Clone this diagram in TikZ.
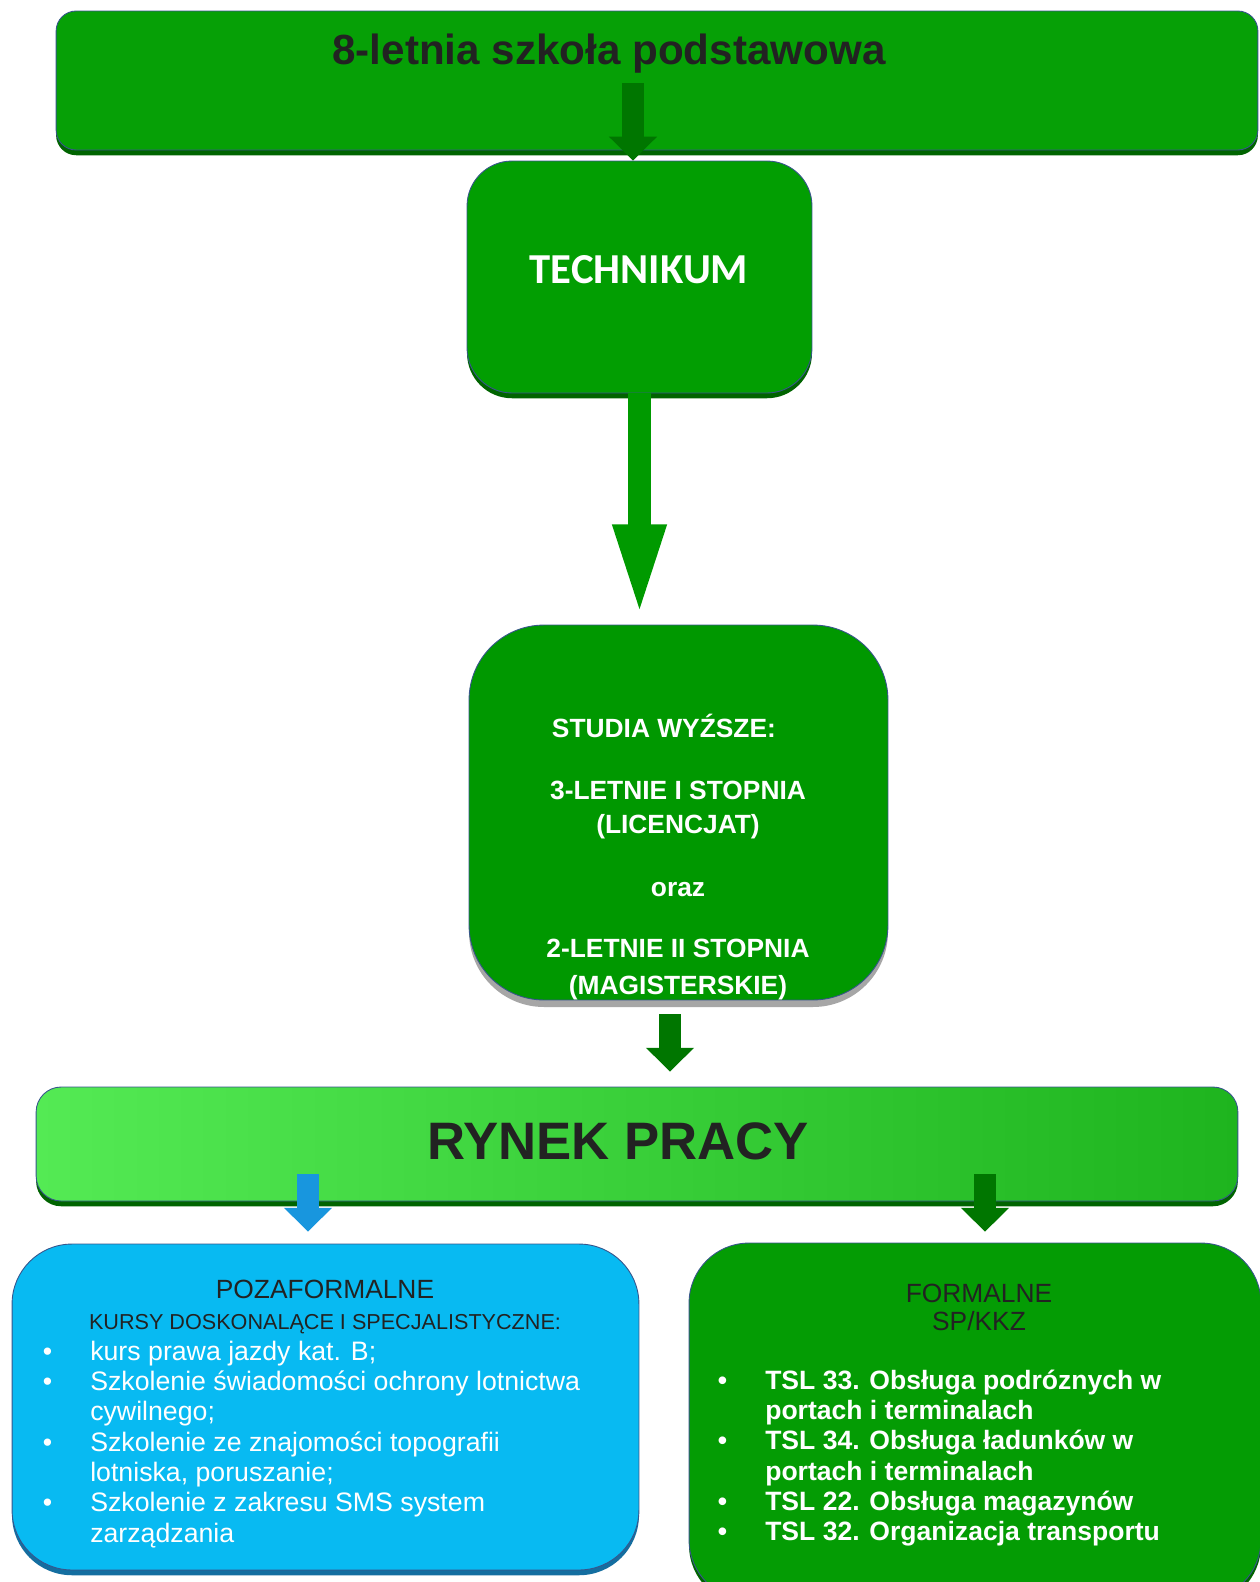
\documentclass[tikz,border=0pt]{standalone}
\usepackage{fontspec}
\setmainfont{Liberation Sans}
\newfontfamily\carlito{Carlito}
\usepackage{tikz}
\usetikzlibrary{arrows.meta,shadows}
\definecolor{topgreen}{RGB}{6,160,6}
\definecolor{techgreen}{RGB}{2,158,2}
\definecolor{studgreen}{RGB}{0,152,0}
\definecolor{formgreen}{RGB}{4,156,4}
\definecolor{edgegreen}{RGB}{0,100,0}
\definecolor{edgeblue}{RGB}{55,85,140}
\definecolor{rynekL}{RGB}{84,234,84}
\definecolor{rynekR}{RGB}{30,180,30}
\definecolor{pozablue}{RGB}{8,186,242}
\definecolor{pozaedge}{RGB}{20,110,160}
\definecolor{arrgreen}{RGB}{0,118,0}
\definecolor{bigarrgreen}{RGB}{0,154,0}
\definecolor{arrblue}{RGB}{24,150,222}
\definecolor{darktext}{RGB}{34,34,34}
\tikzset{box/.style={draw=edgeblue, line width=0.5pt, inner sep=0pt},
  greenbox/.style={box, fill=techgreen, drop shadow={shadow xshift=0pt, shadow yshift=-3pt, fill=edgegreen, opacity=1}},
  arr/.style={line width=12.5pt, -{Triangle[length=13.6pt, width=26.6pt]}, color=arrgreen},
  bigarr/.style={line width=13pt, -{Triangle[length=55pt, width=26.5pt]}, color=bigarrgreen},
  whitetxt/.style={text=white, inner sep=0pt, anchor=base},
  darktxt/.style={text=darktext, inner sep=0pt, anchor=base}}
\newcommand{\bul}[1]{\hangindent=27pt\hangafter=1\noindent\makebox[27pt][l]{\textbullet}#1\par}

\begin{document}
\begin{tikzpicture}[x=0.02cm, y=-0.02cm]
    \useasboundingbox (0,0) rectangle (1260,1582);
    \clip (0,0) rectangle (1260,1582);
    \fill[white] (0,0) rectangle (1260,1582);
    % boxes
    \node[greenbox, fill=topgreen, rounded corners=0.4cm, minimum width=24.04cm, minimum height=2.78cm] (szkola) at (657,80.5) {};
    \node[darktxt, font=\fontsize{24}{28}\selectfont\bfseries] (szkolatxt) at (609,64) {8-letnia szkoła podstawowa};
    \node[greenbox, rounded corners=0.9cm, minimum width=6.9cm, minimum height=4.64cm] (tech) at (639.5,277) {};
    \node[whitetxt, font=\carlito\fontsize{24.3}{28}\selectfont\bfseries] (techtxt) at (639,283) {TECHNIKUM};
    \node[box, fill=studgreen, rounded corners=1.5cm, minimum width=8.38cm, minimum height=7.5cm,
      drop shadow={shadow xshift=0pt, shadow yshift=-4pt, fill=black!35, opacity=1}] (studia) at (678.5,812.5) {};
    \node[whitetxt, font=\fontsize{15}{19.5}\selectfont\bfseries] (studiatxt) at (678,737) {\begin{tabular}[t]{@{}c@{}}
      STUDIA WYŹSZE:\hspace*{16pt}\\[16.2pt]
      3-LETNIE I STOPNIA\\
      (LICENCJAT)\\[16.2pt]
      oraz\\[15pt]
      2-LETNIE II STOPNIA\\[1.5pt]
      (MAGISTERSKIE)
    \end{tabular}};
    \node[box, left color=rynekL, right color=rynekR, rounded corners=0.5cm, minimum width=24.04cm, minimum height=2.28cm,
      drop shadow={shadow xshift=0pt, shadow yshift=-3pt, fill=edgegreen, opacity=1}] (rynek) at (637,1144) {};
    \node[darktxt, font=\fontsize{30}{34}\selectfont\bfseries] (rynektxt) at (618,1159) {RYNEK PRACY};
    \node[box, fill=pozablue, rounded corners=1.2cm, minimum width=12.54cm, minimum height=6.52cm,
      drop shadow={shadow xshift=0pt, shadow yshift=-3pt, fill=pozaedge, opacity=1}] (poza) at (325.5,1407) {};
    \node[greenbox, fill=formgreen, rounded corners=1.2cm, minimum width=11.44cm, minimum height=7.14cm] (formal) at (975,1421.5) {};
    % texts of the two lower boxes
    \node[darktxt, font=\fontsize{15}{18}\selectfont] (pozahead) at (325,1298) {POZAFORMALNE};
    \node[darktxt, font=\fontsize{12.3}{15}\selectfont] (pozasub) at (325,1329) {KURSY DOSKONALĄCE I SPECJALISTYCZNE:};
    \node[anchor=base west, inner sep=0pt, text=white] (pozalist) at (42.5,1360) {\vtop{\hsize=330pt\fontsize{15.2}{17.3}\selectfont\parindent=0pt
      \bul{kurs prawa jazdy kat. B;}
      \bul{Szkolenie świadomości ochrony lotnictwa\newline cywilnego;}
      \bul{Szkolenie ze znajomości topografii\newline lotniska, poruszanie;}
      \bul{Szkolenie z zakresu SMS system\newline zarządzania}}};
    \node[darktxt, font=\fontsize{15}{17.2}\selectfont] (formhead) at (979,1302) {\begin{tabular}[t]{@{}c@{}}FORMALNE\\[-1pt]SP/KKZ\end{tabular}};
    \node[anchor=base west, inner sep=0pt, text=white] (formlist) at (717.5,1389) {\vtop{\hsize=300pt\fontsize{15.1}{17.3}\selectfont\bfseries\parindent=0pt
      \bul{TSL 33. Obsługa podróznych w\newline portach i terminalach}
      \bul{TSL 34. Obsługa ładunków w\newline portach i terminalach}
      \bul{TSL 22. Obsługa magazynów}
      \bul{TSL 32. Organizacja transportu}}};
    % arrows
    \coordinate (a1) at (633,83);
    \draw[arr] (a1) -- (a1 |- tech.north);
    \draw[bigarr, shorten >=2pt] (tech.south) -- (tech.south |- studia.north);
    \coordinate (a3) at (670,1014);
    \draw[arr, shorten >=8.5pt] (a3) -- (a3 |- rynek.north);
    \coordinate (a4) at (308,1174);
    \draw[arr, color=arrblue, shorten >=6.8pt] (a4) -- (a4 |- poza.north);
    \coordinate (a5) at (985,1174);
    \draw[arr, shorten >=6.2pt] (a5) -- (a5 |- formal.north);
  \end{tikzpicture}
\end{document}
